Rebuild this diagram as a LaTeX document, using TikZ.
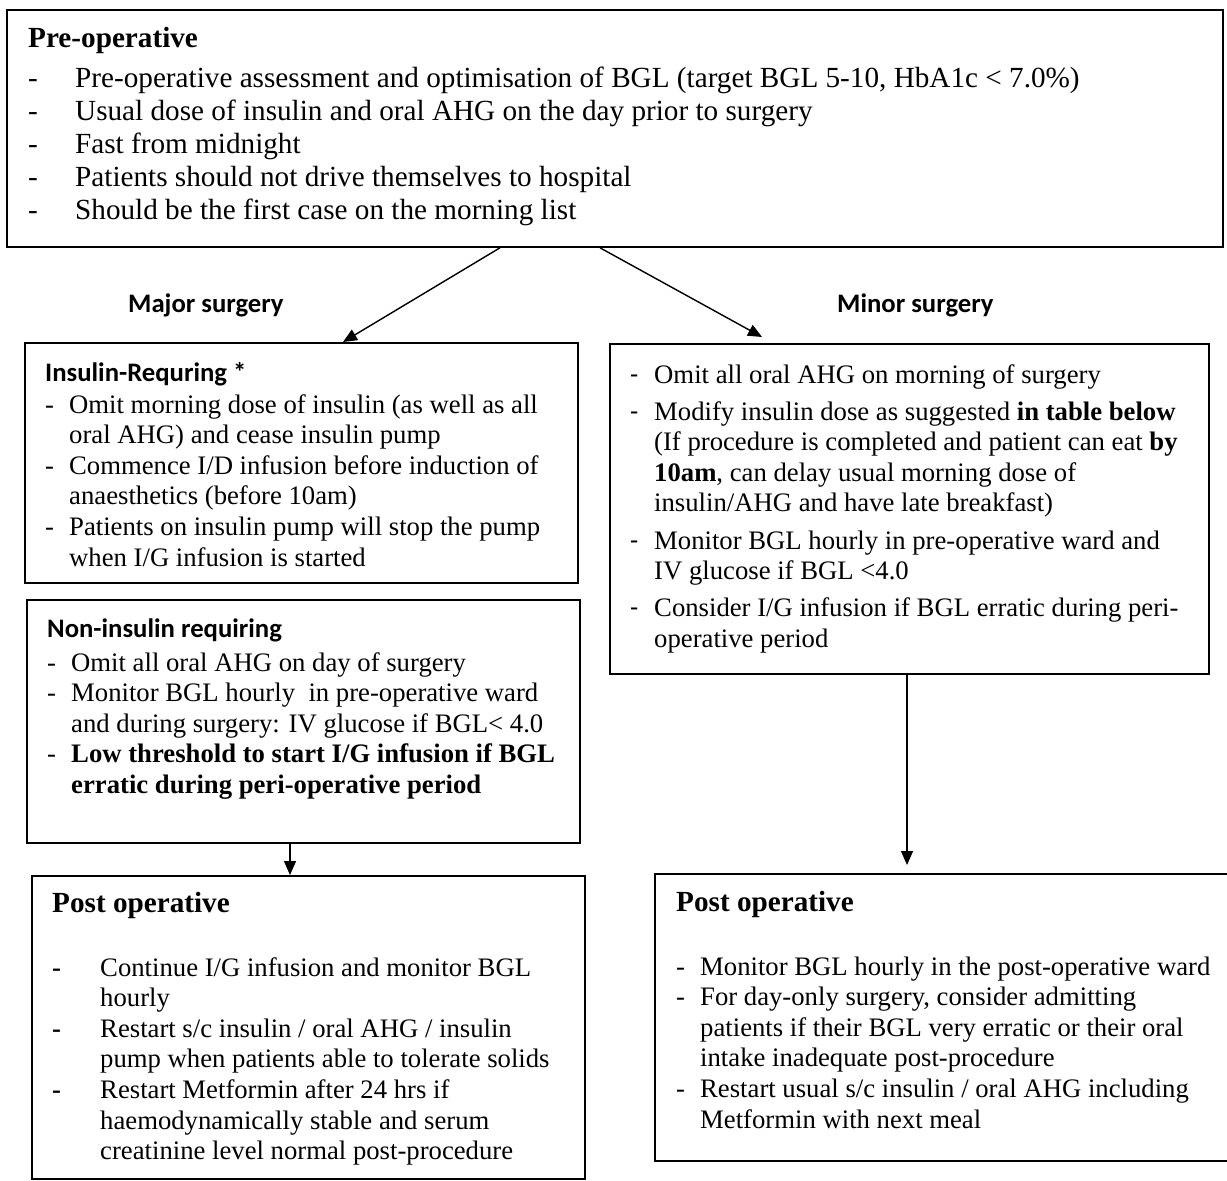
\documentclass[tikz,border=0pt]{standalone}
\usepackage{fontspec}
\setmainfont{Liberation Serif}
\newfontfamily\calib{Carlito}
\usetikzlibrary{arrows.meta}
\tikzset{
  box/.style={draw, line width=1.8pt, inner sep=0pt, anchor=north west},
  lst/.style={anchor=base west, inner sep=0pt, align=left, font=\fontsize{26.7}{30.6}\selectfont},
  hd/.style={anchor=base west, inner sep=0pt, font=\fontsize{29.2}{33}\selectfont\bfseries},
  lab/.style={anchor=base west, inner sep=0pt, font=\calib\fontsize{26.7}{30.6}\selectfont\bfseries},
  conn/.style={line width=1.4pt, -{Triangle[length=14pt,width=12pt]}}
}
\begin{document}
\begin{tikzpicture}[x=1pt, y=-1pt]
  \useasboundingbox (0,0) rectangle (1227,1181);
  \node[box, minimum width=1216pt, minimum height=237pt] (pre) at (6,9) {};
  \node[hd] (preh) at (28,47) {Pre-operative};
  \node[lst, font=\fontsize{29.2}{33}\selectfont] (prel) at (28,87) {%
    \begin{tabular}[t]{@{}p{47pt}@{}l@{}}
      - & Pre-operative assessment and optimisation of BGL (target BGL 5-10, HbA1c < 7.0\%)\\
      - & Usual dose of insulin and oral AHG on the day prior to surgery\\
      - & Fast from midnight\\
      - & Patients should not drive themselves to hospital\\
      - & Should be the first case on the morning list
    \end{tabular}};

  \node[lab] (major) at (128,312) {Major surgery};
  \node[lab] (minorlab) at (837,312) {Minor surgery};

  \node[box, minimum width=553pt, minimum height=240pt] (ins) at (24,342) {};
  \node[lab] (insh) at (45,381) {Insulin-Requring *};
  \node[lst] (insl) at (45,413) {%
    \begin{tabular}[t]{@{}p{24pt}@{}l@{}}
      - & Omit morning dose of insulin (as well as all\\
        & oral AHG) and cease insulin pump\\
      - & Commence I/D infusion before induction of\\
        & anaesthetics (before 10am)\\
      - & Patients on insulin pump will stop the pump\\
        & when I/G infusion is started
    \end{tabular}};

  \node[box, minimum width=553pt, minimum height=243pt] (non) at (26,599) {};
  \node[lab] (nonh) at (47,637) {Non-insulin requiring};
  \node[lst] (nonl) at (47,671) {%
    \begin{tabular}[t]{@{}p{24pt}@{}l@{}}
      - & Omit all oral AHG on day of surgery\\
      - & Monitor BGL hourly \ in pre-operative ward\\
        & and during surgery: IV glucose if BGL< 4.0\\
      - & \bfseries Low threshold to start I/G infusion if BGL\\
        & \bfseries erratic during peri-operative period
    \end{tabular}};

  \node[box, minimum width=599pt, minimum height=330pt] (minor) at (609,343) {};
  \node[lst] (minorl) at (630,383) {%
    \begin{tabular}[t]{@{}p{24pt}@{}l@{}}
      \calib - & Omit all oral AHG on morning of surgery\\[6.5pt]
      \calib - & Modify insulin dose as suggested \textbf{in table below}\\
               & (If procedure is completed and patient can eat \textbf{by}\\
               & \textbf{10am}, can delay usual morning dose of\\
               & insulin/AHG and have late breakfast)\\[6.5pt]
      \calib - & Monitor BGL hourly in pre-operative ward and\\
               & IV glucose if BGL <4.0\\[6.5pt]
      \calib - & Consider I/G infusion if BGL erratic during peri-\\
               & operative period
    \end{tabular}};

  \node[box, minimum width=553pt, minimum height=303pt] (postl) at (31,875) {};
  \node[hd] (postlh) at (52,912) {Post operative};
  \node[lst] (postll) at (52,976) {%
    \begin{tabular}[t]{@{}p{48pt}@{}l@{}}
      \bfseries - & Continue I/G infusion and monitor BGL\\
                  & hourly\\
      \bfseries - & Restart s/c insulin / oral AHG / insulin\\
                  & pump when patients able to tolerate solids\\
      \bfseries - & Restart Metformin after 24 hrs if\\
                  & haemodynamically stable and serum\\
                  & creatinine level normal post-procedure
    \end{tabular}};

  \node[box, minimum width=590pt, minimum height=287pt] (postr) at (654,873) {};
  \node[hd] (postrh) at (676,911) {Post operative};
  \node[lst] (postrl) at (676,975) {%
    \begin{tabular}[t]{@{}p{24pt}@{}l@{}}
      - & Monitor BGL hourly in the post-operative ward\\
      - & For day-only surgery, consider admitting\\
        & patients if their BGL very erratic or their oral\\
        & intake inadequate post-procedure\\
      - & Restart usual s/c insulin / oral AHG including\\
        & Metformin with next meal
    \end{tabular}};

  \draw[conn] ([xshift=494pt]pre.south west) -- ([xshift=319pt]ins.north west);
  \draw[conn] ([xshift=594pt]pre.south west) -- ([xshift=153pt,yshift=6pt]minor.north west);
  \draw[conn] ([xshift=264pt]non.south west) -- ([xshift=259pt]postl.north west);
  \draw[conn] ([xshift=298pt]minor.south west) -- ([xshift=253pt,yshift=8pt]postr.north west);
\end{tikzpicture}
\end{document}
